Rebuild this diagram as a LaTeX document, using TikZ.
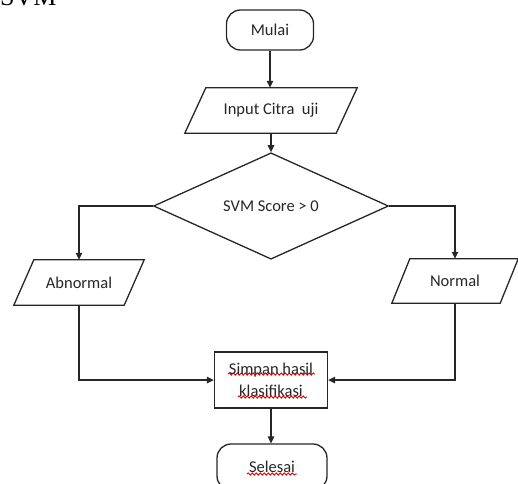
\documentclass[tikz,border=0pt]{standalone}
\usepackage{fontspec}
\setmainfont{Carlito}
\newfontfamily\headserif{Liberation Serif}
\usetikzlibrary{arrows.meta,calc,shapes.geometric,decorations.pathmorphing}

% parallelogram drawn around a named (invisible) node: #1 node, #2 skew
\newcommand\ioshape[2]{%
  \draw[outline] ($(#1.north west)+(#2,0)$) -- (#1.north east)
    -- ($(#1.south east)+(-#2,0)$) -- (#1.south west) -- cycle;}

\begin{document}
\begin{tikzpicture}[x=1pt,y=-1pt,
  every node/.style={font=\fontsize{16.5}{22}\selectfont, text=black!85},
  outline/.style={draw=black!85, line width=1.3pt},
  terminal/.style={outline, rectangle, rounded corners=14pt, inner sep=0pt},
  iobox/.style={rectangle, draw=none, inner sep=0pt},
  procbox/.style={outline, rectangle, inner sep=0pt, align=center},
  decision/.style={outline, diamond, inner sep=0pt},
  arr/.style={draw=black!85, line width=1.3pt, -{Triangle[length=7pt,width=6.5pt]}},
  spell/.style={draw=red!85!black, line width=0.9pt, decorate,
    decoration={snake, amplitude=1.1pt, segment length=4pt}}
]
\useasboundingbox (0,0) rectangle (518,483);

% heading text above the chart, running off the top edge
\node[font=\headserif\fontsize{26}{26}\selectfont, text=black, anchor=base west, inner sep=0pt] (title) at (0,5) {SVM};

% nodes
\node[terminal, minimum width=87, minimum height=40] (mulai) at (270,30) {Mulai};
\node[iobox, minimum width=172, minimum height=45] (input) at (271,110.5) {Input Citra\ \ uji};
\ioshape{input}{21}
\node[decision, minimum width=235, minimum height=72] (dec) at (271,206) {SVM Score > 0};
\node[iobox, minimum width=130, minimum height=45] (abn) at (79,282.5) {Abnormal};
\ioshape{abn}{20}
\node[iobox, minimum width=126, minimum height=44] (norm) at (455,281) {Normal};
\ioshape{norm}{18}
\node[procbox, minimum width=113, minimum height=56] (simpan) at (271,380) {Simpan hasil\\klasifikasi};
\node[terminal, minimum width=110, minimum height=46] (selesai) at (272,467) {Selesai};

% spelling marks under the Indonesian words
\draw[spell] ($(simpan.center)+(-43,-6)$) -- ($(simpan.center)+(44,-6)$);
\draw[spell] ($(simpan.center)+(-33,17)$) -- ($(simpan.center)+(36,17)$);
\draw[spell] ($(selesai.center)+(-25,7)$) -- ($(selesai.center)+(25,7)$);

% connectors
\draw[arr] (mulai.south) -- (mulai.south |- input.north);
\draw[arr] (input.south) -- (dec.north);
\draw[arr] (dec.west) -| (abn.north);
\draw[arr] (dec.east) -| (norm.north);
\draw[arr] (abn.south) |- (simpan.west);
\draw[arr] (norm.south) |- (simpan.east);
\draw[arr] (simpan.south) -- (simpan.south |- selesai.north);
\end{tikzpicture}
\end{document}
